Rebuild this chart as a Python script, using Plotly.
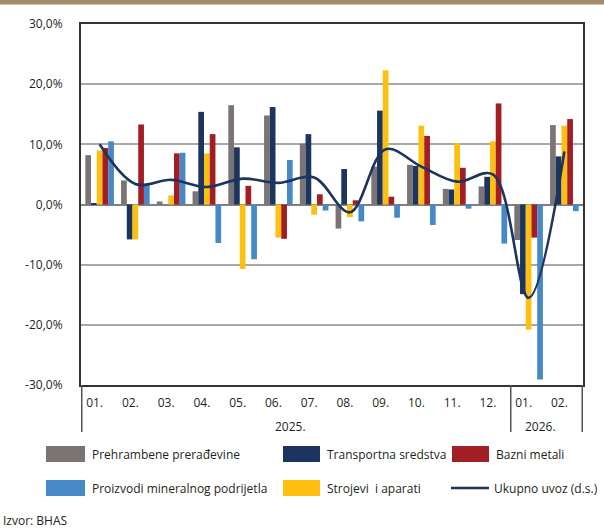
import plotly.graph_objects as go

# ---------------- data ----------------
years = ["2025."] * 12 + ["2026."] * 2
months = ["01.", "02.", "03.", "04.", "05.", "06.", "07.", "08.", "09.", "10.", "11.", "12.", "01.", "02."]
year_labels = ["2025.", "2026."]

prehrambene = [8.2, 4.0, 0.5, 2.2, 16.5, 14.8, 10.1, -4.0, 6.3, 6.6, 2.6, 3.0, -5.9, 13.2]
transportna = [0.2, -5.8, 0.0, 15.4, 9.5, 16.2, 11.7, 5.9, 15.6, 6.4, 2.5, 4.6, -14.9, 8.0]
strojevi = [9.0, -5.8, 1.5, 8.5, -10.7, -5.5, -1.7, -2.1, 22.3, 13.1, 10.2, 10.5, -20.8, 13.1]
bazni = [9.4, 13.3, 8.5, 11.7, 3.1, -5.7, 1.7, 0.7, 1.3, 11.4, 6.1, 16.8, -5.5, 14.2]
proizvodi = [10.5, 3.3, 8.6, -6.4, -9.1, 7.4, -1.0, -2.8, -2.2, -3.4, -0.7, -6.5, -29.1, -1.1]
ukupno = [10.0, 3.4, 4.1, 2.9, 4.3, 3.6, 4.5, -1.3, 9.2, 6.3, 3.8, 5.0, -15.5, 8.8]

y_tickvals = [-30, -20, -10, 0, 10, 20, 30]
y_ticktext = ["-30,0%", "-20,0%", "-10,0%", "0,0%", "10,0%", "20,0%", "30,0%"]

names = {
    "preh": "Prehrambene prerađevine",
    "trans": "Transportna sredstva",
    "bazni": "Bazni metali",
    "proiz": "Proizvodi mineralnog podrijetla",
    "stroj": "Strojevi\u00a0 i aparati",
    "uk": "Ukupno uvoz (d.s.)",
}
colors = {
    "preh": "#7a7574",
    "trans": "#1c355e",
    "bazni": "#a31e24",
    "proiz": "#4788c7",
    "stroj": "#fdc010",
    "uk": "#1c355e",
}

W, H = 604, 529
L, R, T, B = 81, 21, 24, 144
PW, PH = W - L - R, H - T - B


def px(xp):
    return (xp - L) / PW


def py(yp):
    return (H - B - yp) / PH


periods = [y + m for y, m in zip(years, months)]
FONT = "Open Sans"
TXT = "#231f20"

fig = go.Figure()
for key, vals in [("preh", prehrambene), ("trans", transportna), ("stroj", strojevi),
                  ("bazni", bazni), ("proiz", proizvodi)]:
    fig.add_trace(go.Bar(x=periods, y=vals, name=names[key], marker_color=colors[key],
                         marker_line_width=0, showlegend=False))
fig.add_trace(go.Scatter(x=periods, y=ukupno, name=names["uk"], mode="lines",
                         line=dict(color=colors["uk"], width=2.6, shape="spline", smoothing=1.0),
                         showlegend=False))

fig.update_layout(
    width=W, height=H,
    margin=dict(l=L, r=R, t=T, b=B, autoexpand=False),
    paper_bgcolor="white", plot_bgcolor="white",
    barmode="group", bargap=0.2, bargroupgap=0.0,
    font=dict(family=FONT, size=12, color=TXT),
)
fig.update_yaxes(
    range=[-30, 30], tickvals=y_tickvals, ticktext=y_ticktext,
    showgrid=True, gridcolor="#a8a8a8", gridwidth=1.5,
    zeroline=True, zerolinecolor="#808080", zerolinewidth=1.5,
    showline=True, linecolor="#333333", linewidth=2, mirror=True,
    ticks="", ticklabelstandoff=14, tickfont=dict(size=12, color=TXT),
    automargin=False,
)
fig.update_xaxes(
    type="category", showgrid=False,
    tickvals=periods, ticktext=months,
    showline=True, linecolor="#333333", linewidth=2, mirror=True,
    ticks="", ticklabelstandoff=6, ticklabelshift=-5,
    tickfont=dict(size=12, color=TXT),
    automargin=False,
)

shapes = []
annotations = []
# top band
shapes.append(dict(type="rect", xref="paper", yref="paper", x0=px(-5), x1=px(W + 5),
                   y0=py(4.5), y1=py(-5), fillcolor="#a38b6e", line_width=0, layer="above"))

# year group dividers below the axis
n12 = years.count("2025.")
for xi in [-0.5, n12 - 0.5, len(periods) - 0.5]:
    shapes.append(dict(type="line", xref="x", yref="paper", x0=xi, x1=xi,
                       y0=py(385), y1=py(432), line=dict(color="#555555", width=1.5)))
# year labels
for yl in year_labels:
    idx = [i for i, y in enumerate(years) if y == yl]
    annotations.append(dict(text=yl, xref="x", yref="paper", x=(idx[0] + idx[-1]) / 2,
                            y=py(426), xanchor="center", yanchor="middle", xshift=-6,
                            showarrow=False, font=dict(family=FONT, size=12, color=TXT)))

legend_items = [
    ("preh", 46, 85, 90, 454, "rect"),
    ("trans", 283, 320, 325, 454, "rect"),
    ("bazni", 452, 489, 494, 454, "rect"),
    ("proiz", 46, 85, 90, 488, "rect"),
    ("stroj", 283, 320, 325, 488, "rect"),
    ("uk", 451, 489, 492, 488, "line"),
]
for key, sx0, sx1, tx, cy, kind in legend_items:
    if kind == "rect":
        shapes.append(dict(type="rect", xref="paper", yref="paper",
                           x0=px(sx0), x1=px(sx1), y0=py(cy + 8), y1=py(cy - 8),
                           fillcolor=colors[key], line_width=0))
    else:
        shapes.append(dict(type="line", xref="paper", yref="paper",
                           x0=px(sx0), x1=px(sx1), y0=py(cy), y1=py(cy),
                           line=dict(color=colors[key], width=2.6)))
    annotations.append(dict(text=names[key], xref="paper", yref="paper",
                            x=px(tx), y=py(cy), xanchor="left", yanchor="middle",
                            showarrow=False, font=dict(family=FONT, size=12, color=TXT)))

annotations.append(dict(text="Izvor: BHAS", xref="paper", yref="paper",
                        x=px(1), y=py(520), xanchor="left", yanchor="middle",
                        showarrow=False, font=dict(family=FONT, size=12, color=TXT)))

fig.update_layout(shapes=shapes, annotations=annotations)
fig.write_html("out.html", config={"displayModeBar": False},
               post_script="document.body.style.margin='0';document.body.style.overflow='hidden';")
